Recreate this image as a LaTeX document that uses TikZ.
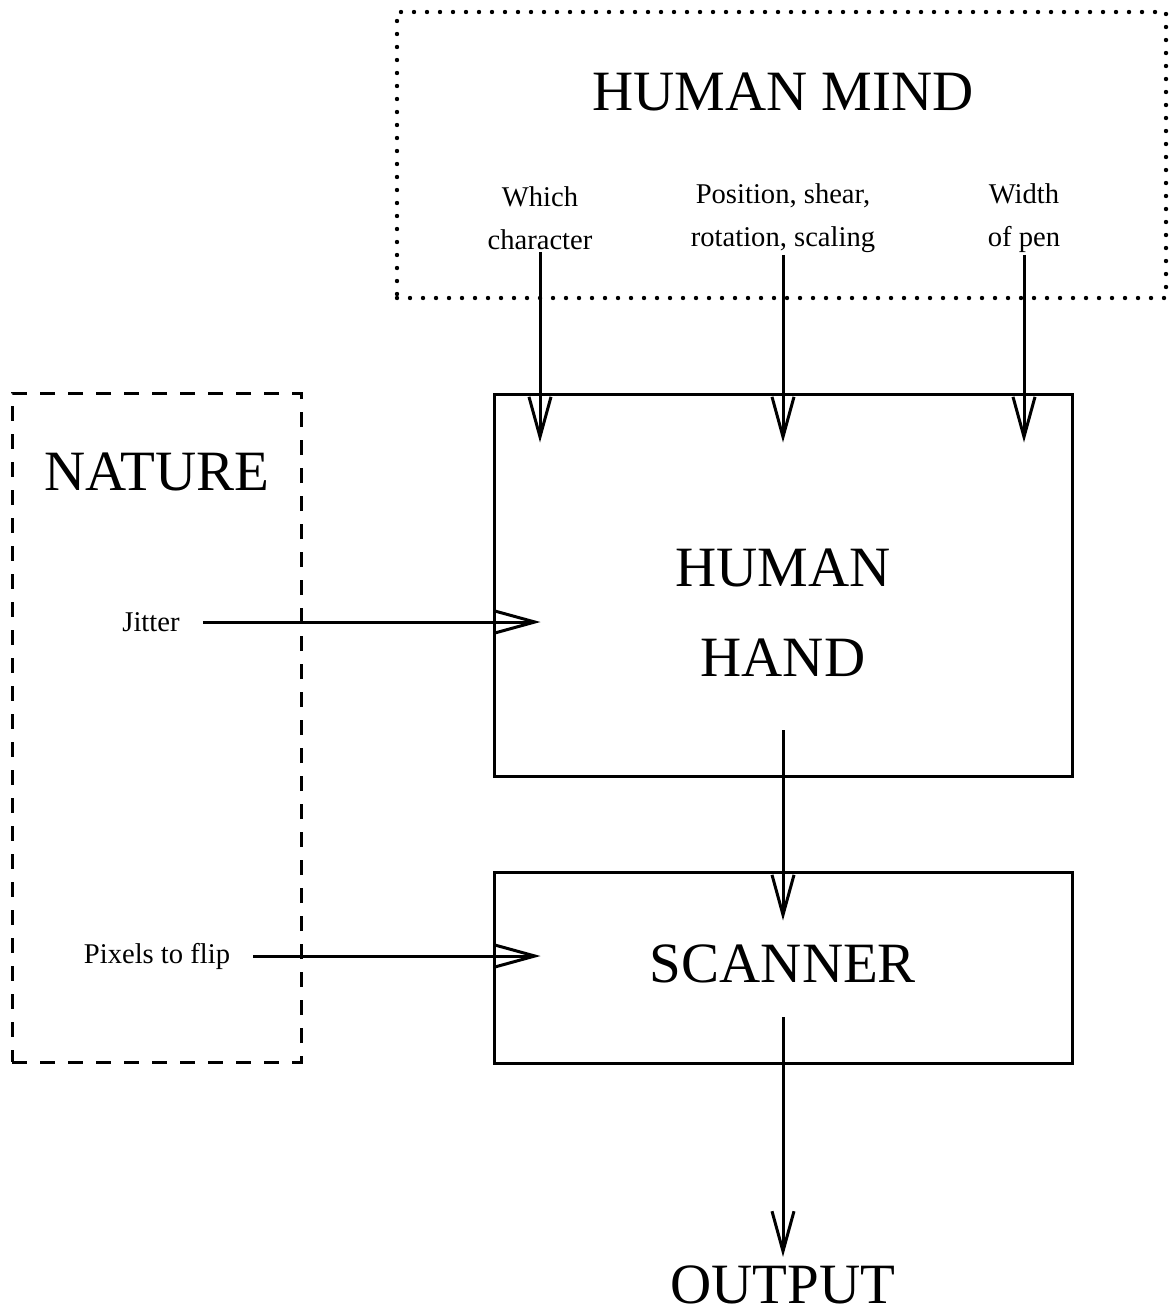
\documentclass[tikz,border=0pt]{standalone}
\usepackage{fontspec}
\setmainfont{Liberation Serif}
\usetikzlibrary{arrows.meta}
\begin{document}
\begin{tikzpicture}[x=0.5pt,y=-0.5pt,
  big/.style={font=\fontsize{28.5}{45}\selectfont, align=center, inner sep=0pt},
  small/.style={font=\fontsize{14.3}{21.5}\selectfont, align=center, inner sep=1pt},
  side/.style={font=\fontsize{14.3}{21.5}\selectfont, inner xsep=11.5pt, inner ysep=3pt},
  flow/.style={line width=1.5pt, -{Straight Barb[length=20pt,width=11pt,line width=1.5pt]}},
  block/.style={draw, line width=1.5pt, minimum width=289pt}]
\useasboundingbox (0,0) rectangle (1168,1312);

% draw outer boxes
\node[draw, line width=2.2pt, line cap=round, dash pattern=on 0pt off 6.5pt,
  minimum width=384.5pt, minimum height=143pt] (mind) at (781.5,155) {};
\node[draw, line width=1.5pt, dash pattern=on 7.5pt off 6.5pt,
  minimum width=144.5pt, minimum height=334.5pt] (nature) at (156.5,727.5) {};

% draw inner boxes
\node[block, minimum height=191pt] (hand) at (783,585) {};
\node[block, minimum height=95.5pt] (scanner) at (783,967.5) {};

% draw box titles
\node[big, anchor=base] (mindtext) at (783,110) {HUMAN MIND};
\node[big, anchor=base] (naturetext) at (157,490) {NATURE};
\node[big] (handtext) at (783,613) {HUMAN\\HAND};
\node[big, anchor=base] (scannertext) at (783,982) {SCANNER};
\node[big, anchor=base] (output) at (783,1303) {OUTPUT};

% draw labels
\node[small] (which) at (540,218) {Which\\character};
\node[small] (pose) at (783,218) {Position, shear,\\rotation, scaling};
\node[small] (pen) at (1024,218) {Width\\of pen};
\node[side] (jitter) at (151,622) {Jitter};
\node[side] (flip) at (157,956) {Pixels to flip};

% draw arrows
\foreach \src in {which,pose,pen}
{
\draw[flow] (\src.south) -- ([yshift=-25pt]hand.north -| \src.south);
}
\draw[flow] (jitter.east) -- ([xshift=24pt]jitter.east -| hand.west);
\draw[flow] (flip.east) -- ([xshift=24pt]flip.east -| scanner.west);
\coordinate (handout) at (783,730);
\coordinate (scanout) at (783,1017);
\draw[flow] (handout) -- ([yshift=-25pt]scanner.north);
\draw[flow] (scanout) -- ([yshift=4pt]output.north);
\end{tikzpicture}
\end{document}
